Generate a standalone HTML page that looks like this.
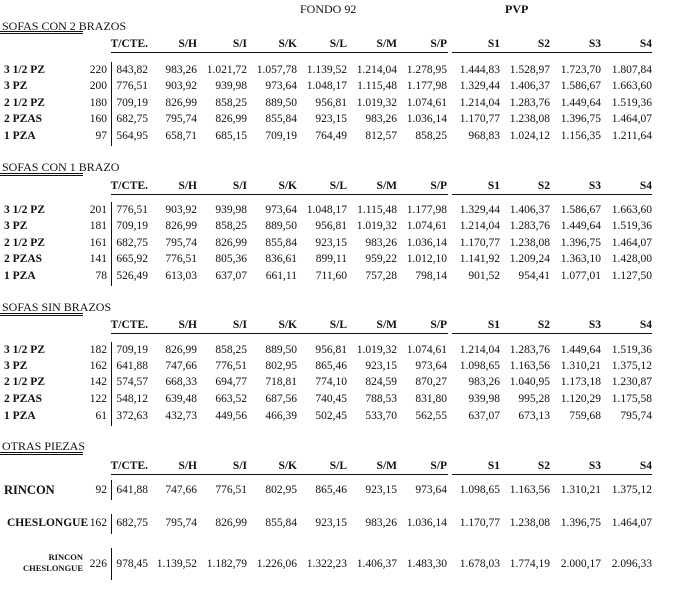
<!DOCTYPE html>
<html><head><meta charset="utf-8"><style>
body{margin:0;width:673px;height:592px;background:#fff;position:relative;font-family:"Liberation Serif",serif;font-size:11.5px;color:#111;overflow:hidden}
.row{position:absolute;left:0;width:673px;height:14px;line-height:14px}
.row span{position:absolute;white-space:nowrap}
.l{left:4px;font-weight:bold}
.c0{right:566px}.c1{right:525px}.c2{right:476px}.c3{right:426px}.c4{right:376px}.c5{right:326px}.c6{right:276px}.c7{right:226px}.c8{right:173px}.c9{right:123px}.c10{right:72px}.c11{right:21px}
.h span{font-weight:bold}
.t{position:absolute;left:2px;font-size:12px;line-height:14px}
.dl{position:absolute;left:0;width:83px;height:1px;border-top:1px solid #111;border-bottom:1px solid #111}
.ul{position:absolute;height:0;border-top:1.5px solid #111}
.vl{position:absolute;left:111px;width:0;border-left:1px solid #111}
</style></head><body>
<div class="row" style="top:2px"><span style="left:300px;font-size:12px">FONDO 92</span><span style="left:505px;font-weight:bold;font-size:12px">PVP</span></div>

<div class="t" style="top:19px">SOFAS CON 2 BRAZOS</div><div class="dl" style="top:31px"></div>
<div class="row h" style="top:37px"><span class="c1">T/CTE.</span><span class="c2">S/H</span><span class="c3">S/I</span><span class="c4">S/K</span><span class="c5">S/L</span><span class="c6">S/M</span><span class="c7">S/P</span><span class="c8">S1</span><span class="c9">S2</span><span class="c10">S3</span><span class="c11">S4</span></div>
<div class="ul" style="top:52px;left:111px;width:337px"></div><div class="ul" style="top:52px;left:452px;width:200px"></div>
<div class="vl" style="top:62px;height:84px"></div>
<div class="row" style="top:63px"><span class="l">3 1/2 PZ</span><span class="c0">220</span><span class="c1">843,82</span><span class="c2">983,26</span><span class="c3">1.021,72</span><span class="c4">1.057,78</span><span class="c5">1.139,52</span><span class="c6">1.214,04</span><span class="c7">1.278,95</span><span class="c8">1.444,83</span><span class="c9">1.528,97</span><span class="c10">1.723,70</span><span class="c11">1.807,84</span></div>
<div class="row" style="top:79px"><span class="l">3 PZ</span><span class="c0">200</span><span class="c1">776,51</span><span class="c2">903,92</span><span class="c3">939,98</span><span class="c4">973,64</span><span class="c5">1.048,17</span><span class="c6">1.115,48</span><span class="c7">1.177,98</span><span class="c8">1.329,44</span><span class="c9">1.406,37</span><span class="c10">1.586,67</span><span class="c11">1.663,60</span></div>
<div class="row" style="top:96px"><span class="l">2 1/2 PZ</span><span class="c0">180</span><span class="c1">709,19</span><span class="c2">826,99</span><span class="c3">858,25</span><span class="c4">889,50</span><span class="c5">956,81</span><span class="c6">1.019,32</span><span class="c7">1.074,61</span><span class="c8">1.214,04</span><span class="c9">1.283,76</span><span class="c10">1.449,64</span><span class="c11">1.519,36</span></div>
<div class="row" style="top:112px"><span class="l">2 PZAS</span><span class="c0">160</span><span class="c1">682,75</span><span class="c2">795,74</span><span class="c3">826,99</span><span class="c4">855,84</span><span class="c5">923,15</span><span class="c6">983,26</span><span class="c7">1.036,14</span><span class="c8">1.170,77</span><span class="c9">1.238,08</span><span class="c10">1.396,75</span><span class="c11">1.464,07</span></div>
<div class="row" style="top:129px"><span class="l">1 PZA</span><span class="c0">97</span><span class="c1">564,95</span><span class="c2">658,71</span><span class="c3">685,15</span><span class="c4">709,19</span><span class="c5">764,49</span><span class="c6">812,57</span><span class="c7">858,25</span><span class="c8">968,83</span><span class="c9">1.024,12</span><span class="c10">1.156,35</span><span class="c11">1.211,64</span></div>

<div class="t" style="top:160px">SOFAS CON 1 BRAZO</div><div class="dl" style="top:173px"></div>
<div class="row h" style="top:179px"><span class="c1">T/CTE.</span><span class="c2">S/H</span><span class="c3">S/I</span><span class="c4">S/K</span><span class="c5">S/L</span><span class="c6">S/M</span><span class="c7">S/P</span><span class="c8">S1</span><span class="c9">S2</span><span class="c10">S3</span><span class="c11">S4</span></div>
<div class="ul" style="top:194px;left:111px;width:337px"></div><div class="ul" style="top:194px;left:452px;width:200px"></div>
<div class="vl" style="top:202px;height:84px"></div>
<div class="row" style="top:203px"><span class="l">3 1/2 PZ</span><span class="c0">201</span><span class="c1">776,51</span><span class="c2">903,92</span><span class="c3">939,98</span><span class="c4">973,64</span><span class="c5">1.048,17</span><span class="c6">1.115,48</span><span class="c7">1.177,98</span><span class="c8">1.329,44</span><span class="c9">1.406,37</span><span class="c10">1.586,67</span><span class="c11">1.663,60</span></div>
<div class="row" style="top:219px"><span class="l">3 PZ</span><span class="c0">181</span><span class="c1">709,19</span><span class="c2">826,99</span><span class="c3">858,25</span><span class="c4">889,50</span><span class="c5">956,81</span><span class="c6">1.019,32</span><span class="c7">1.074,61</span><span class="c8">1.214,04</span><span class="c9">1.283,76</span><span class="c10">1.449,64</span><span class="c11">1.519,36</span></div>
<div class="row" style="top:236px"><span class="l">2 1/2 PZ</span><span class="c0">161</span><span class="c1">682,75</span><span class="c2">795,74</span><span class="c3">826,99</span><span class="c4">855,84</span><span class="c5">923,15</span><span class="c6">983,26</span><span class="c7">1.036,14</span><span class="c8">1.170,77</span><span class="c9">1.238,08</span><span class="c10">1.396,75</span><span class="c11">1.464,07</span></div>
<div class="row" style="top:252px"><span class="l">2 PZAS</span><span class="c0">141</span><span class="c1">665,92</span><span class="c2">776,51</span><span class="c3">805,36</span><span class="c4">836,61</span><span class="c5">899,11</span><span class="c6">959,22</span><span class="c7">1.012,10</span><span class="c8">1.141,92</span><span class="c9">1.209,24</span><span class="c10">1.363,10</span><span class="c11">1.428,00</span></div>
<div class="row" style="top:269px"><span class="l">1 PZA</span><span class="c0">78</span><span class="c1">526,49</span><span class="c2">613,03</span><span class="c3">637,07</span><span class="c4">661,11</span><span class="c5">711,60</span><span class="c6">757,28</span><span class="c7">798,14</span><span class="c8">901,52</span><span class="c9">954,41</span><span class="c10">1.077,01</span><span class="c11">1.127,50</span></div>

<div class="t" style="top:300px">SOFAS SIN BRAZOS</div><div class="dl" style="top:313px"></div>
<div class="row h" style="top:318px"><span class="c1">T/CTE.</span><span class="c2">S/H</span><span class="c3">S/I</span><span class="c4">S/K</span><span class="c5">S/L</span><span class="c6">S/M</span><span class="c7">S/P</span><span class="c8">S1</span><span class="c9">S2</span><span class="c10">S3</span><span class="c11">S4</span></div>
<div class="ul" style="top:333px;left:111px;width:337px"></div><div class="ul" style="top:333px;left:452px;width:200px"></div>
<div class="vl" style="top:342px;height:84px"></div>
<div class="row" style="top:343px"><span class="l">3 1/2 PZ</span><span class="c0">182</span><span class="c1">709,19</span><span class="c2">826,99</span><span class="c3">858,25</span><span class="c4">889,50</span><span class="c5">956,81</span><span class="c6">1.019,32</span><span class="c7">1.074,61</span><span class="c8">1.214,04</span><span class="c9">1.283,76</span><span class="c10">1.449,64</span><span class="c11">1.519,36</span></div>
<div class="row" style="top:359px"><span class="l">3 PZ</span><span class="c0">162</span><span class="c1">641,88</span><span class="c2">747,66</span><span class="c3">776,51</span><span class="c4">802,95</span><span class="c5">865,46</span><span class="c6">923,15</span><span class="c7">973,64</span><span class="c8">1.098,65</span><span class="c9">1.163,56</span><span class="c10">1.310,21</span><span class="c11">1.375,12</span></div>
<div class="row" style="top:375px"><span class="l">2 1/2 PZ</span><span class="c0">142</span><span class="c1">574,57</span><span class="c2">668,33</span><span class="c3">694,77</span><span class="c4">718,81</span><span class="c5">774,10</span><span class="c6">824,59</span><span class="c7">870,27</span><span class="c8">983,26</span><span class="c9">1.040,95</span><span class="c10">1.173,18</span><span class="c11">1.230,87</span></div>
<div class="row" style="top:392px"><span class="l">2 PZAS</span><span class="c0">122</span><span class="c1">548,12</span><span class="c2">639,48</span><span class="c3">663,52</span><span class="c4">687,56</span><span class="c5">740,45</span><span class="c6">788,53</span><span class="c7">831,80</span><span class="c8">939,98</span><span class="c9">995,28</span><span class="c10">1.120,29</span><span class="c11">1.175,58</span></div>
<div class="row" style="top:409px"><span class="l">1 PZA</span><span class="c0">61</span><span class="c1">372,63</span><span class="c2">432,73</span><span class="c3">449,56</span><span class="c4">466,39</span><span class="c5">502,45</span><span class="c6">533,70</span><span class="c7">562,55</span><span class="c8">637,07</span><span class="c9">673,13</span><span class="c10">759,68</span><span class="c11">795,74</span></div>

<div class="t" style="top:439px">OTRAS PIEZAS</div><div class="dl" style="top:452px"></div>
<div class="row h" style="top:459px"><span class="c1">T/CTE.</span><span class="c2">S/H</span><span class="c3">S/I</span><span class="c4">S/K</span><span class="c5">S/L</span><span class="c6">S/M</span><span class="c7">S/P</span><span class="c8">S1</span><span class="c9">S2</span><span class="c10">S3</span><span class="c11">S4</span></div>
<div class="ul" style="top:474px;left:111px;width:337px"></div><div class="ul" style="top:474px;left:452px;width:200px"></div>
<div class="vl" style="top:480px;height:20px"></div>
<div class="vl" style="top:514px;height:20px"></div>
<div class="vl" style="top:548px;height:32px"></div>
<div class="row" style="top:483px"><span class="l" style="font-size:12.5px">RINCON</span><span class="c0">92</span><span class="c1">641,88</span><span class="c2">747,66</span><span class="c3">776,51</span><span class="c4">802,95</span><span class="c5">865,46</span><span class="c6">923,15</span><span class="c7">973,64</span><span class="c8">1.098,65</span><span class="c9">1.163,56</span><span class="c10">1.310,21</span><span class="c11">1.375,12</span></div>
<div class="row" style="top:516px"><span class="l" style="left:7px">CHESLONGUE</span><span class="c0">162</span><span class="c1">682,75</span><span class="c2">795,74</span><span class="c3">826,99</span><span class="c4">855,84</span><span class="c5">923,15</span><span class="c6">983,26</span><span class="c7">1.036,14</span><span class="c8">1.170,77</span><span class="c9">1.238,08</span><span class="c10">1.396,75</span><span class="c11">1.464,07</span></div>
<div style="position:absolute;left:10px;top:552px;width:73px;text-align:right;font-weight:bold;font-size:8.5px;line-height:11px">RINCON<br>CHESLONGUE</div>
<div class="row" style="top:557px"><span class="c0">226</span><span class="c1">978,45</span><span class="c2">1.139,52</span><span class="c3">1.182,79</span><span class="c4">1.226,06</span><span class="c5">1.322,23</span><span class="c6">1.406,37</span><span class="c7">1.483,30</span><span class="c8">1.678,03</span><span class="c9">1.774,19</span><span class="c10">2.000,17</span><span class="c11">2.096,33</span></div>
</body></html>
